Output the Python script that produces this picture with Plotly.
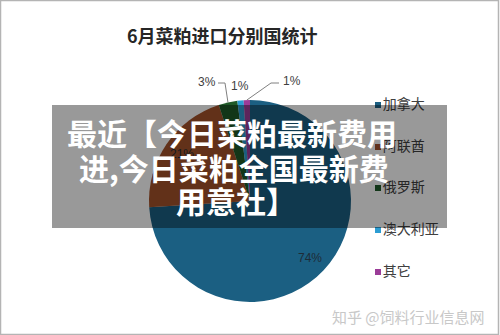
import math
import plotly.graph_objects as go

# ---------------- data ----------------
countries = ["加拿大", "阿联酋", "俄罗斯", "澳大利亚", "其它"]
shares = [74, 21, 3, 1, 1]
slice_colors = ["#1b5f82", "#a4532b", "#1f5a28", "#2c9dd3", "#9b3c98"]
pct_labels = ["74%", "21%", "3%", "1%", "1%"]
title_text = "6月菜粕进口分别国统计"
overlay_lines = ["最近【今日菜粕最新费用", "进,今日菜粕全国最新费", "用意社】"]
watermark_text = "知乎 @饲料行业信息网"

# ---------------- layout constants (pixels) ----------------
W, H = 500, 335
CX, CY, R = 250, 201, 101
BAND = (52, 105, 447, 228)  # x0, y0, x1, y1 of the dark overlay band
DIM = 0.6
CJK = "Noto Sans CJK SC"
NUM_FONT = "Liberation Sans Narrow, Liberation Sans, Arial"


def dim(hexcol, inside):
    if not inside:
        return hexcol
    h = hexcol.lstrip("#")
    r, g, b = (int(h[i:i + 2], 16) for i in (0, 2, 4))
    return "rgb(%d,%d,%d)" % (r * DIM, g * DIM, b * DIM)


def in_band(x, y):
    return BAND[0] <= x <= BAND[2] and BAND[1] <= y <= BAND[3]


# slice geometry derived from the data (clockwise from 12 o'clock)
total = float(sum(shares))
mids = []
acc = 0.0
for v in shares:
    mids.append((acc + v / 2.0) / total * 360.0)
    acc += v


def polar(theta, r):
    t = math.radians(theta)
    return CX + r * math.sin(t), CY - r * math.cos(t)


fig = go.Figure()

# pie
fig.add_trace(go.Pie(
    labels=countries, values=shares, sort=False, direction="clockwise",
    rotation=0, marker=dict(colors=slice_colors, line=dict(width=0)),
    textinfo="none", hoverinfo="label+percent", showlegend=False,
    domain=dict(x=[(CX - R) / W, (CX + R) / W],
                y=[1 - (CY + R) / H, 1 - (CY - R) / H]),
))

# legend as a scatter on hidden pixel axes (so the band dims it)
leg_x = 378
leg_y = [105, 147, 188, 230, 272]
fig.add_trace(go.Scatter(
    x=[leg_x] * len(countries), y=leg_y, mode="markers+text",
    text=countries, textposition="middle right",
    textfont=dict(family=CJK, size=14, color="#404040"),
    marker=dict(symbol="square", size=6, color=slice_colors),
    hoverinfo="skip", showlegend=False, cliponaxis=False,
))

# leader lines for the small slices
ax3, ay3 = polar(mids[2], R)
ax5, ay5 = polar(mids[4], R)
fig.add_trace(go.Scatter(
    x=[218, 225, ax3, None, 279, 271, ax5],
    y=[83, 83, ay3, None, 83, 83, ay5],
    mode="lines", line=dict(color="#808080", width=1),
    hoverinfo="skip", showlegend=False, cliponaxis=False,
))

annotations = []
# inside labels for the two big slices
for i in (0, 1):
    x, y = polar(mids[i], 0.82 * R)
    annotations.append(dict(x=x, y=y, xref="x", yref="y", text=pct_labels[i],
                            showarrow=False,
                            font=dict(family=NUM_FONT, size=12,
                                      color=dim("#1e2c38", in_band(x, y)))))
# outside labels for the small slices
annotations.append(dict(x=218, y=82, xref="x", yref="y", text=pct_labels[2],
                        xanchor="right", showarrow=False,
                        font=dict(family=NUM_FONT, size=12, color="#404040")))
annotations.append(dict(x=240, y=86, xref="x", yref="y", text=pct_labels[3],
                        showarrow=False,
                        font=dict(family=NUM_FONT, size=12, color="#404040")))
annotations.append(dict(x=281, y=81, xref="x", yref="y", text=pct_labels[4],
                        xanchor="left", showarrow=False,
                        font=dict(family=NUM_FONT, size=12, color="#404040")))
# title
annotations.append(dict(x=222, y=35, xref="x", yref="y", text="<b>%s</b>" % title_text,
                        showarrow=False,
                        font=dict(family=CJK, size=18, color="#262626")))
# watermark
annotations.append(dict(x=487, y=316, xref="x", yref="y", text=watermark_text,
                        xanchor="right", showarrow=False,
                        font=dict(family=CJK, size=15, color="#c8c8c8")))
# overlay headline
for txt, (x, y) in zip(overlay_lines, [(232, 132), (234, 167), (236, 200)]):
    annotations.append(dict(x=x, y=y, xref="x", yref="y", text=txt,
                            showarrow=False,
                            font=dict(family=CJK, size=30, color="white", weight="bold")))

shapes = [
    dict(type="rect", xref="x", yref="y", x0=BAND[0], y0=BAND[1], x1=BAND[2], y1=BAND[3],
         fillcolor="rgba(0,0,0,0.4)", line=dict(width=0), layer="above"),
    dict(type="rect", xref="paper", yref="paper", x0=0.5 / W, y0=0.5 / H,
         x1=1 - 1.5 / W, y1=1 - 0.5 / H,
         fillcolor="rgba(0,0,0,0)", line=dict(color="#b4b4b4", width=1.5), layer="above"),
]

fig.update_layout(
    width=W, height=H, margin=dict(l=0, r=0, t=0, b=0),
    paper_bgcolor="white", plot_bgcolor="white",
    xaxis=dict(range=[0, W], domain=[0, 1], visible=False, fixedrange=True),
    yaxis=dict(range=[H, 0], domain=[0, 1], visible=False, fixedrange=True),
    annotations=annotations, shapes=shapes, showlegend=False,
)

fig.write_html("out.html")
